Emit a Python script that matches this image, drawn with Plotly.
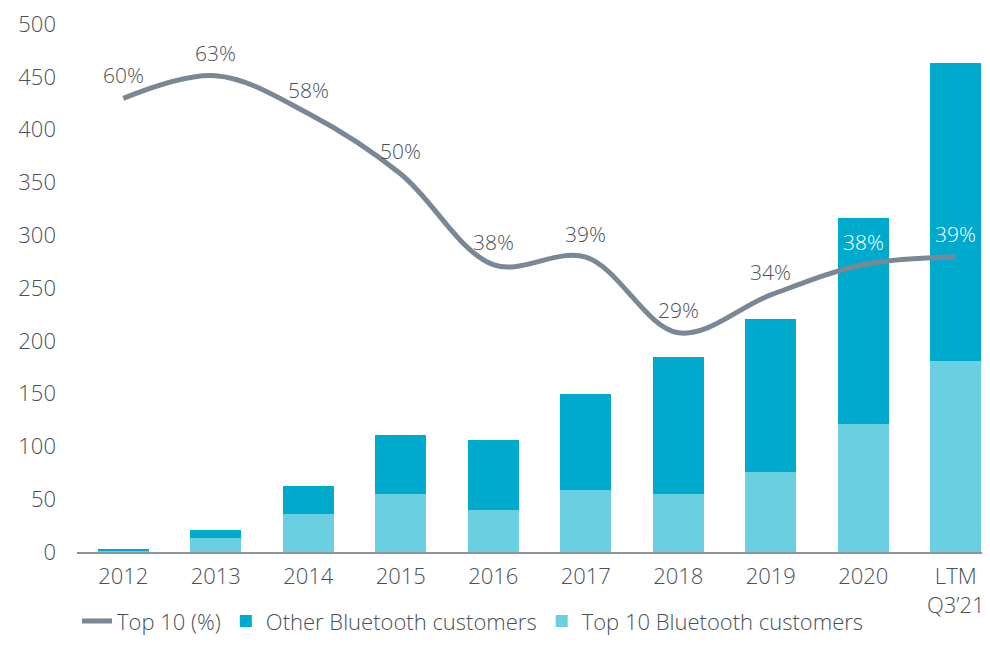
import plotly.graph_objects as go

categories = ["2012", "2013", "2014", "2015", "2016", "2017", "2018", "2019", "2020", "LTM<br>Q3’21"]
top10_customers = [1.5, 13, 36, 55, 40, 59, 54.5, 76, 121, 181]
other_customers = [1.5, 7.5, 26.5, 55.5, 66.5, 91, 130.5, 144.5, 195, 282]
top10_pct = [60, 63, 58, 50, 38, 39, 29, 34, 38, 39]
pct_labels = [f"{v}%" for v in top10_pct]
label_colors = ["#4a5058"] * 8 + ["#ffffff", "#ffffff"]

FONT = "Open Sans"
TXT = "#4a5058"
FS = 22

fig = go.Figure()
fig.add_trace(go.Bar(x=categories, y=top10_customers, name="Top 10 Bluetooth customers",
                     marker=dict(color="#6ad0e1", line=dict(width=0)), legendrank=3))
fig.add_trace(go.Bar(x=categories, y=other_customers, name="Other Bluetooth customers",
                     marker=dict(color="#00aacd", line=dict(width=0)), legendrank=2))
fig.add_trace(go.Scatter(x=categories, y=top10_pct, name="Top 10 (%)", yaxis="y2",
                         mode="lines",
                         line=dict(color="#798894", width=5, shape="spline", smoothing=1),
                         legendrank=1))

for i, (val, lab, col) in enumerate(zip(top10_pct, pct_labels, label_colors)):
    fig.add_annotation(x=i, y=val, xref="x", yref="y2", text=lab, showarrow=False,
                       yshift=23, font=dict(family=FONT, size=FS - 1, color=col, weight=300))

fig.update_layout(
    width=982, height=653,
    margin=dict(l=69, r=0, t=11, b=109),
    paper_bgcolor="white", plot_bgcolor="white",
    barmode="stack", bargap=0.45,
    font=dict(family=FONT, size=FS, color=TXT, weight=300),
    showlegend=True,
    legend=dict(orientation="h", x=0.0, xanchor="left", y=-0.131, yanchor="middle",
                traceorder="normal", font=dict(size=FS, color=TXT, weight=300), itemwidth=30),
    xaxis=dict(range=[-0.5, 9.37], showgrid=False, showline=True, linecolor="#8a949c",
               linewidth=2, ticks="", tickfont=dict(size=FS, color=TXT, weight=300),
               ticklabelstandoff=4, ticklabeloverflow="allow"),
    yaxis=dict(range=[0, 500], dtick=50, showgrid=False, zeroline=False, showline=False,
               tickfont=dict(size=FS, color=TXT, weight=300), ticklabelstandoff=20,
               ticklabeloverflow="allow"),
    yaxis2=dict(range=[0, 500 / 7.16], overlaying="y", visible=False, showgrid=False),
)

fig.write_html("out.html")
